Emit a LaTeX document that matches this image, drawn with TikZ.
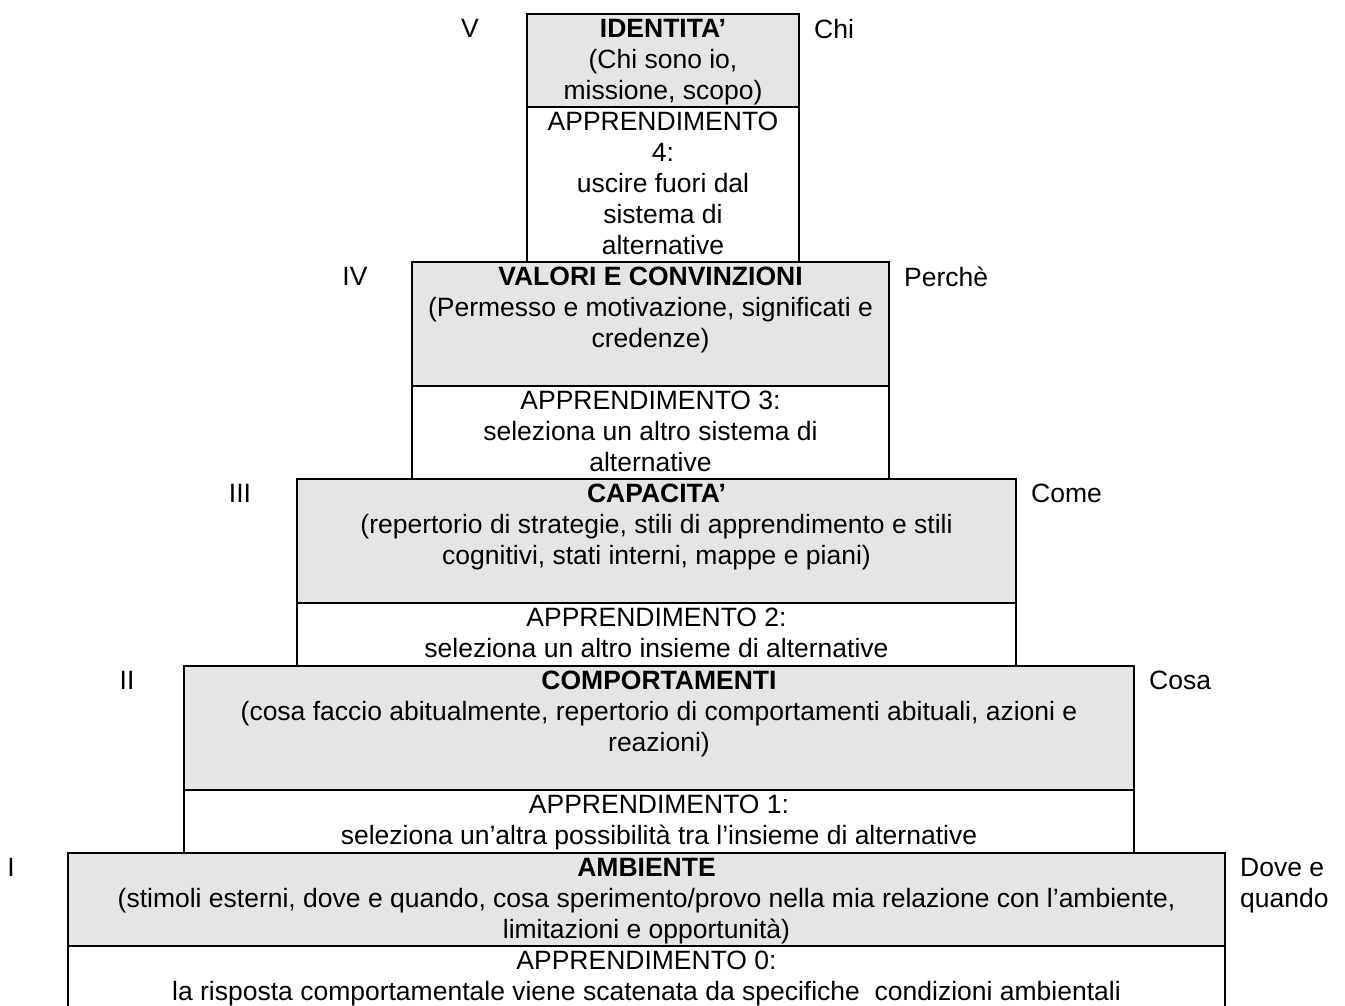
\documentclass[tikz,border=0pt]{standalone}
\usepackage{fontspec}
\setmainfont{Liberation Sans}
\usepackage{xcolor}
\definecolor{CellGray}{RGB}{229,229,229}
\usetikzlibrary{positioning}
\newcommand{\cellfont}{\fontsize{26.5}{31}\selectfont}

\begin{document}
\begin{tikzpicture}[x=1pt,y=-1pt,
    upper/.style={draw=black,fill=CellGray,line width=2pt},
    lower/.style={draw=black,fill=white,line width=2pt},
    cell/.style={anchor=north,align=center,inner xsep=0pt,inner ysep=5pt,font=\cellfont},
    lvl/.style={anchor=north,inner xsep=0pt,inner ysep=5pt,font=\cellfont},
    ask/.style={anchor=north west,align=left,inner xsep=0pt,inner ysep=5pt,font=\cellfont}]

    \useasboundingbox (0,0) rectangle (1345,1005);

    % Levels (left/right/top/middle/bottom/number/question)
    \foreach \xl/\xr/\yt/\ym/\yb/\num/\why/\k in {
        527/799/14/107/262/V/Chi/5,
        412/889/262/386/479/IV/Perchè/4,
        297/1016/479/603/666/III/Come/3,
        184/1134/666/790/853/II/Cosa/2,
        68/1225/853/946/1015/I/{Dove e\\quando}/1}{
      \draw[upper] (\xl,\yt) rectangle (\xr,\ym);
      \draw[lower] (\xl,\ym) rectangle (\xr,\yb);
      \coordinate (t\k) at ({(\xl+\xr)/2},\yt);
      \coordinate (m\k) at ({(\xl+\xr)/2},\ym);
      \node[lvl] (n\k) at (\xl-57,\yt) {\num};
      \node[ask] (q\k) at (\xr+15,\yt) {\why};
    }

    % V
    \node[cell] (g5) at (t5) {\textbf{IDENTITA’}\\(Chi sono io,\\missione, scopo)};
    \node[cell] (w5) at (m5) {APPRENDIMENTO\\4:\\uscire fuori dal\\sistema di\\alternative};

    % IV
    \node[cell] (g4) at (t4) {\textbf{VALORI E CONVINZIONI}\\(Permesso e motivazione, significati e\\credenze)};
    \node[cell] (w4) at (m4) {APPRENDIMENTO 3:\\seleziona un altro sistema di\\alternative};

    % III
    \node[cell] (g3) at (t3) {\textbf{CAPACITA’}\\(repertorio di strategie, stili di apprendimento e stili\\cognitivi, stati interni, mappe e piani)};
    \node[cell] (w3) at (m3) {APPRENDIMENTO 2:\\seleziona un altro insieme di alternative};

    % II
    \node[cell] (g2) at (t2) {\textbf{COMPORTAMENTI}\\(cosa faccio abitualmente, repertorio di comportamenti abituali, azioni e\\reazioni)};
    \node[cell] (w2) at (m2) {APPRENDIMENTO 1:\\seleziona un’altra possibilità tra l’insieme di alternative};

    % I
    \node[cell] (g1) at (t1) {\textbf{AMBIENTE}\\(stimoli esterni, dove e quando, cosa sperimento/provo nella mia relazione con l’ambiente,\\limitazioni e opportunità)};
    \node[cell] (w1) at (m1) {APPRENDIMENTO 0:\\la risposta comportamentale viene scatenata da specifiche\ \ condizioni ambientali};
\end{tikzpicture}
\end{document}
